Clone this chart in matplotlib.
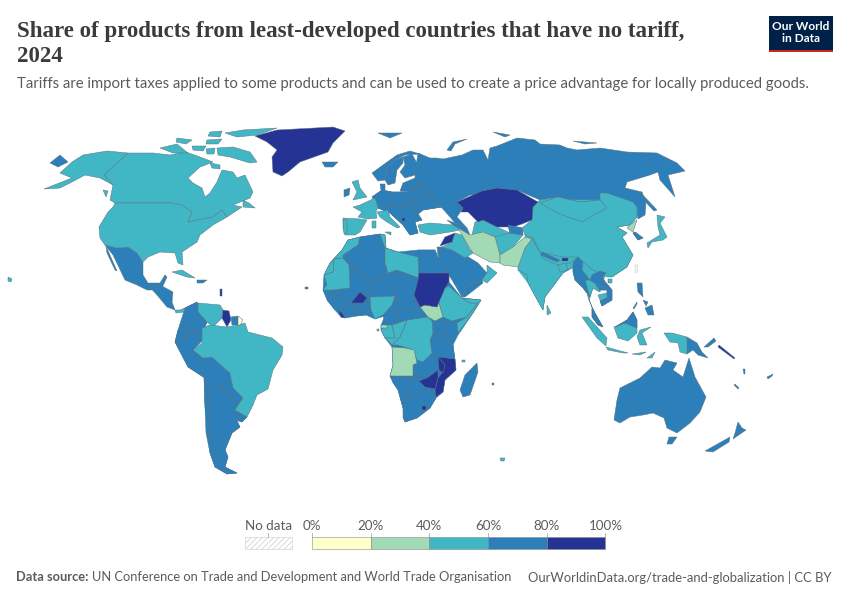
import matplotlib
matplotlib.use("Agg")
import matplotlib.pyplot as plt
from matplotlib.patches import Rectangle

title_lines = ["Share of products from least-developed countries that have no tariff,", "2024"]
subtitle = "Tariffs are import taxes applied to some products and can be used to create a price advantage for locally produced goods."
source_label = "Data source:"
source_text = "UN Conference on Trade and Development and World Trade Organisation"
site_text = "OurWorldinData.org/trade-and-globalization | CC BY"
legend_ticks = ["0%", "20%", "40%", "60%", "80%", "100%"]
band_colors = ["#ffffcc", "#a1dab4", "#41b6c4", "#2c7fb8", "#253494"]

# outlines, in picture pixels
canada = [(128,153),(153,153),(170,155),(186,152),(200,157),(213,162),(200,167),(188,178),(193,183),(202,188),(205,197),(210,193),(217,182),(222,170),(233,172),(237,178),(245,175),(253,192),(250,198),(233,205),(242,207),(227,217),(222,210),(213,217),(188,222),(192,212),(182,205),(172,203),(115,203),(110,200),(113,185),(104,175)]
usa = [(115,203),(172,203),(182,205),(192,212),(188,222),(213,217),(222,210),(227,217),(213,225),(200,235),(197,242),(182,252),(183,265),(178,263),(175,253),(160,252),(148,257),(143,262),(137,253),(128,247),(117,248),(105,245),(100,238),(99,227),(108,212),(113,207)]
alaska = [(44,189),(72,178),(60,173),(72,162),(83,155),(107,151),(128,153),(104,175),(113,185),(100,178),(85,175),(72,182),(60,188)]
baffin = [(217,148),(233,147),(250,152),(257,162),(250,163),(230,157),(218,155)]
ellesmere = [(225,133),(243,130),(277,128),(257,135),(237,137)]
victoria = [(160,148),(177,144),(188,153),(173,153)]
banks = [(177,138),(192,140),(186,144),(176,142)]
devon = [(207,140),(222,139),(218,144),(206,144)]
melville = [(192,146),(206,146),(203,151),(193,150)]
axel = [(210,132),(222,131),(220,137),(208,136)]
somerset = [(206,149),(215,148),(214,154),(207,154)]
southampton = [(210,163),(220,165),(220,169),(212,168)]
newfoundland = [(243,200),(249,203),(255,208),(243,207)]
vancouver = [(103,190),(108,191),(106,197)]
mexico = [(105,245),(117,248),(128,247),(137,253),(143,262),(143,275),(148,283),(160,283),(165,275),(167,277),(162,288),(155,290),(147,290),(137,285),(125,280),(113,255)]
baja = [(106,246),(117,271),(115,270),(107,253)]
central_america = [(148,285),(160,285),(173,292),(172,302),(175,310),(167,307),(157,295)]
panama = [(175,310),(180,310),(185,308),(184,312),(176,313)]
cuba = [(172,272),(182,270),(195,278),(187,277)]
hispaniola = [(197,280),(207,280),(203,283),(197,283)]
hawaii = [(8,277),(12,279),(11,282),(8,281)]

south_america_base = [(178,330),(185,308),(197,302),(207,322),(193,350),(203,358),(208,388),(222,383),(233,388),(243,398),(235,410),(247,417),(242,422),(236,420),(240,427),(232,433),(225,450),(228,457),(225,467),(237,473),(227,474),(215,467),(210,453),(205,407),(204,377),(188,367),(175,342)]
colombia = [(185,308),(197,302),(198,310),(207,322),(205,328),(202,340),(195,330),(187,330),(178,330),(187,323)]
venezuela = [(198,303),(220,305),(223,310),(222,318),(213,327),(207,322),(198,312)]
guyana = [(223,310),(229,311),(231,320),(227,327),(222,318)]
suriname = [(231,317),(238,316),(238,325),(232,325)]
french_guiana = [(238,316),(243,320),(240,325),(238,325)]
ecuador = [(175,342),(178,330),(187,330),(188,337),(178,345)]
peru = [(178,345),(188,337),(195,330),(203,340),(193,350),(203,358),(205,377),(203,377),(188,367),(175,342)]
brazil = [(193,350),(202,343),(202,328),(210,325),(227,327),(238,325),(245,323),(248,332),(272,338),(283,347),(282,355),(273,370),(268,389),(257,395),(253,405),(247,417),(235,410),(243,398),(233,388),(230,373),(212,357),(203,358)]
bolivia = [(203,358),(212,357),(230,373),(233,388),(222,388),(208,388),(204,377)]
paraguay = [(222,383),(232,383),(243,398),(237,403),(225,390)]
uruguay = [(235,410),(247,417),(242,422),(236,420)]
argentina = [(208,388),(222,388),(237,403),(235,410),(236,418),(240,427),(232,433),(225,450),(228,457),(225,467),(217,460),(210,437),(208,407)]
chile = [(204,377),(208,388),(208,407),(210,437),(217,460),(225,467),(237,473),(227,474),(215,467),(210,453),(206,433),(205,407)]

greenland = [(255,136),(277,130),(333,127),(345,131),(333,143),(328,152),(300,162),(288,172),(282,176),(273,172),(272,157),(277,150),(267,142)]
iceland = [(322,162),(338,162),(333,167),(325,167)]
uk = [(352,182),(358,180),(360,188),(367,197),(353,200),(357,192)]
ireland = [(344,190),(350,188),(349,195),(344,197)]
france = [(360,205),(375,198),(378,207),(376,212),(377,218),(368,219),(358,217),(362,212),(353,207)]
spain = [(343,218),(360,219),(367,220),(360,232),(355,235),(345,235),(343,228)]
portugal_line = [(343,220),(347,220),(347,233),(344,234)]
italy = [(377,212),(388,210),(390,217),(400,227),(397,228),(387,222),(380,217)]
sicily = [(385,232),(391,232),(391,235)]
sardinia = [(372,221),(376,221),(376,228),(372,228)]
norway = [(372,173),(383,165),(397,155),(410,151),(420,154),(405,155),(395,160),(387,167),(385,180),(378,181)]
sweden = [(387,167),(395,160),(403,157),(403,163),(397,170),(395,183),(388,185),(385,180)]
finland = [(403,157),(412,154),(418,165),(415,175),(405,178),(400,172),(405,165)]
europe_base = [(372,197),(382,190),(392,192),(410,192),(415,180),(423,183),(442,207),(423,210),(418,214),(422,220),(415,222),(418,233),(410,235),(403,225),(390,213),(378,208)]
denmark = [(380,184),(385,184),(385,190),(381,190)]
baltics = [(403,183),(415,178),(423,183),(410,192),(400,191)]
germany = [(372,197),(382,190),(392,192),(392,205),(378,208),(375,198)]
poland = [(392,192),(410,192),(412,205),(392,205)]
belarus = [(410,192),(423,185),(428,196),(412,200)]
ukraine = [(412,200),(428,196),(442,207),(423,210),(418,214),(410,208),(412,205)]
balkans = [(378,208),(392,205),(410,208),(418,214),(422,220),(415,222),(418,233),(410,235),(403,225),(390,213)]
montenegro = [(402,218),(405,218),(405,221),(402,221)]
caucasus = [(447,220),(455,223),(467,228),(470,235),(458,228),(453,225)]
turkey = [(418,225),(430,223),(453,225),(460,230),(450,232),(430,235),(420,232)]
russia = [(418,153),(430,158),(437,158),(443,159),(462,155),(473,150),(483,150),(488,160),(490,148),(497,146),(517,138),(535,140),(540,144),(560,145),(567,148),(577,150),(600,148),(627,152),(657,153),(677,163),(685,171),(668,175),(675,197),(660,180),(658,172),(650,175),(627,182),(625,188),(642,192),(646,203),(645,215),(638,219),(635,207),(607,193),(600,193),(600,200),(580,202),(558,197),(540,200),(517,190),(497,188),(482,191),(483,195),(470,195),(457,202),(463,208),(457,217),(467,228),(455,223),(450,217),(442,208),(432,198),(423,183),(415,180),(415,173)]
chukotka = [(50,163),(60,155),(68,162),(58,167)]
svalbard = [(378,133),(402,133),(390,138)]
novaya_zemlya = [(447,150),(453,142),(467,139),(455,144),(451,151)]
severnaya = [(493,132),(510,135),(505,137)]
new_siberia = [(573,141),(597,143),(585,144)]
sakhalin = [(640,192),(657,210),(654,211),(640,196)]
kazakhstan = [(457,202),(482,191),(497,188),(517,190),(538,202),(533,207),(532,220),(522,224),(513,227),(497,227),(483,220),(478,222),(468,212),(461,212),(463,208)]
turkmenistan = [(475,222),(483,220),(497,227),(510,233),(495,237),(483,232),(472,235)]
tajikistan = [(508,225),(522,228),(523,235),(510,233)]
iran = [(458,228),(470,235),(483,232),(495,237),(500,255),(500,263),(490,262),(473,253),(468,245)]
pakistan = [(500,255),(513,247),(525,237),(532,239),(525,248),(518,267),(503,265),(500,263)]
afghanistan = [(495,237),(510,233),(523,235),(513,247),(500,255)]
asia_base = [(532,220),(533,207),(540,200),(600,200),(637,207),(637,217),(630,225),(617,227),(627,233),(622,237),(633,255),(627,267),(612,277),(606,273),(600,292),(593,288),(589,300),(582,270),(572,268),(563,273),(545,297),(543,310),(528,283),(518,270),(525,248),(525,235)]
china = [(540,200),(558,197),(580,202),(600,200),(600,193),(607,193),(633,202),(637,207),(637,217),(630,225),(617,227),(627,233),(622,237),(633,255),(627,267),(612,277),(607,277),(593,270),(577,257),(563,257),(540,252),(533,238),(525,235),(522,228),(532,220),(533,207)]
mongolia = [(540,203),(558,197),(580,202),(600,200),(607,208),(597,213),(582,222),(557,213)]
hainan = [(608,279),(612,279),(612,283),(608,283)]
north_korea = [(630,225),(637,220),(633,232),(627,228)]
south_korea = [(635,232),(643,238),(638,240),(633,233)]
japan = [(657,215),(665,217),(660,223),(667,237),(663,240),(652,242),(648,248),(647,243),(660,235),(658,227)]
india = [(525,248),(532,239),(540,252),(542,258),(560,266),(570,263),(578,257),(572,268),(563,273),(545,297),(543,310),(540,305),(528,283),(527,275),(518,270),(518,267)]
nepal = [(542,252),(560,260),(557,262),(541,255)]
bhutan = [(562,258),(568,258),(568,261),(562,261)]
bangladesh = [(558,265),(566,263),(568,270),(560,272)]
myanmar = [(573,263),(578,257),(583,262),(582,270),(590,280),(585,280),(590,297),(583,288),(575,280),(573,272)]
thailand = [(585,280),(590,280),(595,283),(600,292),(593,288),(590,297),(589,300),(592,307),(588,297)]
laos = [(592,275),(600,271),(604,281),(607,290),(600,290),(595,283),(590,280)]
vietnam = [(600,271),(606,273),(602,278),(612,290),(612,300),(602,306),(600,301),(607,298),(607,290),(604,281)]
cambodia = [(598,295),(607,293),(608,298),(600,300)]
sri_lanka = [(547,305),(551,313),(547,315)]
taiwan = [(635,265),(638,265),(637,273),(635,272)]

sumatra = [(582,317),(588,317),(607,338),(606,346),(597,338)]
malay = [(592,307),(595,313),(603,327),(598,325),(592,317)]
java = [(606,347),(628,353),(623,353),(608,350)]
sundas = [(632,354),(646,352),(640,355)]
timor = [(647,358),(655,352),(652,358)]
borneo_id = [(614,327),(625,323),(637,328),(637,333),(628,341),(618,338)]
borneo_my = [(615,327),(627,320),(633,312),(637,320),(637,328),(625,323)]
sulawesi = [(640,330),(651,327),(642,333),(647,345),(640,345),(637,337)]
luzon = [(637,283),(642,283),(643,297),(638,292)]
visayas = [(643,300),(648,302),(646,306)]
mindanao = [(645,308),(652,305),(654,315),(648,315)]
palawan = [(633,308),(637,302),(637,304),(634,309)]
papua_id = [(664,333),(672,333),(687,337),(687,354),(680,352),(678,343),(670,342)]
png = [(687,337),(697,343),(702,352),(708,358),(698,355),(693,350),(687,354)]
new_britain = [(704,347),(714,338),(716,341),(708,347)]
australia = [(614,420),(617,400),(620,388),(640,378),(652,367),(660,368),(665,360),(677,363),(673,370),(683,377),(689,358),(695,377),(706,397),(700,412),(690,423),(677,433),(667,428),(664,418),(653,413),(643,415),(630,417),(620,423)]
tasmania = [(669,437),(677,437),(672,444),(667,444)]
nz_north = [(738,422),(742,428),(746,430),(733,439),(735,433)]
nz_south = [(730,437),(729,442),(713,452),(705,451)]
new_caledonia = [(735,384),(739,388),(738,389),(734,385)]
fiji = [(767,377),(773,374),(772,376),(768,379)]
solomons = [(719,345),(735,358),(734,359),(718,347)]
vanuatu = [(743,369),(745,369),(745,374),(744,374)]
kerguelen = [(500,458),(505,458),(504,461),(501,461)]
mauritius = [(492,383),(494,383),(494,385),(492,385)]
comoros = [(462,360),(465,360),(465,362),(462,362)]
cape_verde = [(305,287),(308,287),(308,289),(305,289)]
antilles = [(220,289),(222,289),(222,296),(220,296)]
sao_tome = [(377,329),(379,329),(379,331),(377,331)]

africa_base = [(342,250),(348,240),(360,237),(380,234),(385,235),(386,248),(398,252),(418,250),(435,250),(438,258),(449,273),(449,282),(462,298),(481,300),(473,313),(458,335),(453,345),(455,360),(456,370),(445,380),(443,392),(436,398),(430,408),(417,418),(405,422),(403,408),(398,390),(390,376),(393,365),(392,347),(385,338),(381,330),(381,325),(385,316),(375,319),(366,315),(357,316),(345,318),(341,317),(335,310),(327,300),(323,290),(324,275),(330,263)]
morocco = [(360,237),(358,245),(343,255),(343,258),(334,259),(333,272),(324,275),(330,263),(342,250),(348,240)]
mauritania = [(324,275),(333,272),(334,259),(343,258),(349,265),(350,288),(333,290),(323,290),(327,285)]
algeria = [(360,237),(380,234),(385,248),(385,263),(388,273),(372,282),(360,272),(343,255),(358,245)]
tunisia = [(380,234),(385,235),(386,248),(385,248)]
libya = [(385,248),(398,252),(418,257),(419,278),(397,270),(388,273),(385,263)]
egypt = [(418,250),(435,250),(438,258),(449,273),(419,273),(418,257)]
sudan = [(419,273),(449,273),(449,282),(445,288),(440,300),(437,307),(425,305),(420,307),(414,295),(418,280)]
south_sudan = [(420,307),(425,305),(437,307),(438,300),(443,317),(435,321),(428,317)]
ethiopia = [(438,300),(445,288),(449,286),(462,298),(470,303),(478,303),(467,317),(452,321),(443,317)]
somalia = [(462,298),(481,300),(473,313),(458,333),(457,323),(467,317),(478,303),(470,303)]
kenya = [(445,320),(452,321),(457,323),(458,333),(453,343),(445,337),(445,330)]
uganda = [(432,321),(445,320),(445,330),(433,333)]
tanzania = [(433,335),(445,337),(453,345),(455,360),(442,362),(432,353),(430,340)]
drc = [(407,320),(428,317),(432,321),(433,333),(430,340),(432,353),(423,362),(417,360),(413,350),(398,345),(392,345),(400,337)]
nigeria = [(370,297),(395,296),(392,305),(383,315),(375,319),(371,310)]
cameroon = [(383,315),(392,305),(397,298),(398,310),(398,318),(392,325),(385,325)]
chad = [(397,272),(419,278),(418,280),(414,295),(417,308),(398,313),(397,298),(393,288)]
niger = [(372,282),(388,273),(397,272),(393,288),(397,298),(395,296),(370,297),(366,295),(372,292)]
mali = [(350,265),(372,282),(372,292),(360,292),(351,303),(343,298),(333,290),(350,288)]
burkina = [(351,303),(360,292),(367,298),(363,303)]
senegal = [(323,290),(333,290),(335,298),(327,298)]
guinea = [(327,300),(335,298),(343,298),(351,303),(343,308),(335,310)]
liberia = [(338,310),(342,313),(345,318),(341,317)]
ivory_coast = [(343,305),(356,304),(356,313),(345,318)]
ghana = [(356,304),(363,304),(363,315),(357,316)]
benin_togo = [(363,304),(369,300),(371,310),(366,315),(363,315)]
car = [(398,310),(417,308),(428,317),(407,320),(392,325),(398,318)]
gabon = [(385,325),(392,325),(395,338),(385,338),(381,330)]
congo = [(392,325),(407,320),(400,337),(392,345),(385,338),(395,338)]
eq_guinea = [(381,325),(387,325),(387,328),(381,328)]
angola = [(392,347),(405,348),(414,350),(417,363),(413,365),(413,376),(390,376),(393,365)]
zambia = [(417,362),(428,353),(438,358),(440,368),(427,378),(413,376),(413,365)]
mozambique = [(438,357),(455,359),(456,370),(445,380),(443,392),(436,397),(435,390),(438,378),(443,372),(445,365)]
malawi = [(438,357),(445,365),(443,373),(439,370)]
zimbabwe = [(427,378),(438,370),(438,378),(435,389),(425,387),(419,381)]
botswana = [(411,378),(419,378),(425,387),(420,393),(415,398),(408,398),(408,388)]
namibia = [(390,376),(411,378),(408,388),(406,398),(406,408),(403,408),(398,390),(393,383)]
south_africa = [(406,398),(415,398),(420,393),(425,389),(434,390),(436,398),(430,408),(417,418),(405,422),(403,418),(403,408)]
lesotho = [(422,406),(426,406),(426,410),(422,410)]
madagascar = [(477,363),(478,372),(470,395),(463,397),(460,390),(465,375)]

saudi = [(442,247),(462,253),(478,263),(487,273),(482,280),(467,285),(462,297),(452,280),(438,258)]
yemen = [(462,297),(467,285),(482,280),(483,283),(465,297)]
oman = [(487,265),(497,273),(487,283),(482,280),(487,273)]
syria = [(440,246),(445,237),(455,233),(452,242)]
iraq = [(452,242),(455,233),(462,235),(470,250),(473,253),(465,258),(452,250),(442,247)]
jordan = [(437,247),(442,247),(442,252),(438,256)]

# one list per legend band
band_0 = [french_guiana]
band_1 = [iran, pakistan, north_korea, south_sudan, angola, eq_guinea]
band_2 = [asia_base, canada, usa, alaska, baffin, ellesmere, victoria, banks, devon, melville, axel, somerset, southampton, newfoundland, vancouver, panama, cuba, hawaii, venezuela, brazil, uk, france, spain, portugal_line, italy, sicily, sardinia, turkey, turkmenistan, afghanistan, china, mongolia, hainan, japan, india, bangladesh, thailand, cambodia, sri_lanka, sumatra, java, sundas, timor, borneo_id, sulawesi, papua_id, kerguelen, comoros, sao_tome, morocco, mauritania, tunisia, libya, ethiopia, somalia, nigeria, drc, gabon, congo, oman, iraq]
band_3 = [africa_base, south_america_base, europe_base, mexico, baja, central_america, hispaniola, colombia, suriname, ecuador, peru, bolivia, paraguay, uruguay, argentina, chile, iceland, ireland, norway, sweden, finland, denmark, baltics, germany, poland, belarus, ukraine, balkans, caucasus, russia, chukotka, svalbard, novaya_zemlya, severnaya, new_siberia, sakhalin, tajikistan, south_korea, nepal, myanmar, laos, vietnam, malay, borneo_my, luzon, visayas, mindanao, palawan, png, new_britain, australia, tasmania, nz_north, nz_south, new_caledonia, fiji, vanuatu, mauritius, cape_verde, algeria, egypt, kenya, uganda, tanzania, cameroon, chad, niger, mali, senegal, guinea, ivory_coast, ghana, benin_togo, car, zambia, namibia, botswana, south_africa, madagascar, saudi, yemen, jordan]
band_4 = [guyana, greenland, kazakhstan, bhutan, solomons, antilles, sudan, burkina, liberia, mozambique, malawi, zimbabwe, lesotho, syria, montenegro]
# blue first so the lighter neighbours sit on top of it at shared edges
draw_order = [3, 2, 1, 4, 0]
# small blue countries that sit inside lighter ones go on last
blue_on_top = [nepal, tajikistan, myanmar, laos, vietnam, south_korea, borneo_my, malay]
bands = [band_0, band_1, band_2, band_3, band_4]

plt.rcParams["font.family"] = "Lato"
fig = plt.figure(figsize=(8.5, 6), dpi=100)
ax = fig.add_axes([0, 0, 1, 1])
ax.set_xlim(0, 850)
ax.set_ylim(600, 0)
ax.axis("off")

for i in draw_order:
    for shape in bands[i]:
        # the base shapes only fill gaps between countries, no outline
        base = shape is africa_base or shape is south_america_base or shape is europe_base or shape is asia_base
        ax.fill([p[0] for p in shape], [p[1] for p in shape], facecolor=band_colors[i],
                edgecolor=band_colors[i] if base else "#5f7480", linewidth=0.35)
for shape in blue_on_top:
    ax.fill([p[0] for p in shape], [p[1] for p in shape], facecolor=band_colors[3], edgecolor="#5f7480", linewidth=0.35)

# no data: Taiwan
ax.fill([p[0] for p in taiwan], [p[1] for p in taiwan], facecolor="#f4f4f4", edgecolor="#cccccc", linewidth=0.4)

# header
ax.text(17, 32, title_lines[0], family="Liberation Serif", fontweight="bold", fontsize=16.5, color="#3b3b3b", va="center")
ax.text(17, 56, title_lines[1], family="Liberation Serif", fontweight="bold", fontsize=16.5, color="#3b3b3b", va="center")
ax.text(17, 84, subtitle, fontsize=10.75, color="#5b5b5b", va="center")

# logo
ax.add_patch(Rectangle((769, 16), 64, 36, facecolor="#002147", edgecolor="none"))
ax.add_patch(Rectangle((769, 49.5), 64, 2.5, facecolor="#ce261e", edgecolor="none"))
ax.text(801, 26.5, "Our World", color="white", fontsize=8.6, fontweight="bold", ha="center", va="center")
ax.text(801, 38.5, "in Data", color="white", fontsize=8.6, fontweight="bold", ha="center", va="center")

# legend
edges = [312, 370.7, 429.4, 488.1, 546.8, 605.5]
for i in range(5):
    ax.add_patch(Rectangle((edges[i], 537), edges[i+1]-edges[i], 11.5, facecolor=band_colors[i], edgecolor="#8a8a8a", linewidth=0.4))
for x, label in zip(edges, legend_ticks):
    ax.plot([x, x], [533, 537], color="#999999", lw=0.5)
    ax.text(x, 525.5, label, fontsize=9.6, color="#5b5b5b", ha="center", va="center")
plt.rcParams["hatch.linewidth"] = 0.5
ax.add_patch(Rectangle((245, 537), 47, 11.5, facecolor="white", edgecolor="#cccccc", linewidth=0.4, hatch="//////"))
ax.plot([268.5, 268.5], [533, 537], color="#999999", lw=0.5)
ax.text(268.5, 525.5, "No data", fontsize=9.6, color="#5b5b5b", ha="center", va="center")

# footer
ax.text(16, 577, source_label, fontsize=9.3, fontweight="bold", color="#5b5b5b", va="center")
ax.text(92, 577, source_text, fontsize=9.27, color="#5b5b5b", va="center")
ax.text(832, 577, site_text, fontsize=9.38, color="#5b5b5b", va="center", ha="right")

fig.savefig("out.png", dpi=100)
